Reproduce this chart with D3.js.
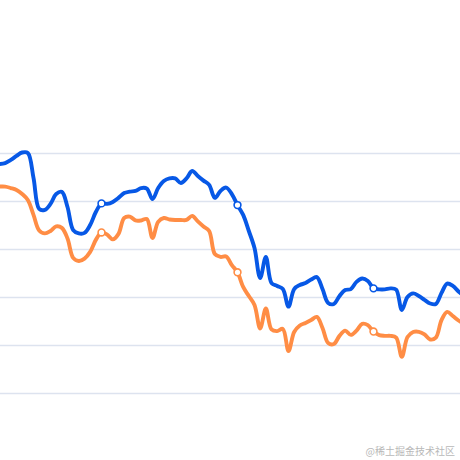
<!DOCTYPE html>
<html>
<head>
<meta charset="utf-8">
<script src="https://cdn.jsdelivr.net/npm/d3@7"></script>
<style>
  html, body { margin: 0; padding: 0; background: #fff; }
  svg { display: block; }
</style>
</head>
<body>
<div id="chart"></div>
<script>
// ---- data ----
const yTicks = [0, 20, 40, 60, 80, 100];
const seriesNames = ["A", "B"];
const blueValues = [95.4, 95.8, 97.1, 98.8, 100.2, 100, 89.6, 76.7, 76.3, 78.8,
  82.9, 83.8, 77.5, 67.9, 66.5, 66.7, 70, 75.4, 79, 78.8,
  79.6, 81.3, 83.3, 83.9, 84.2, 85.4, 85.2, 80.8, 85.4, 88.3,
  89.4, 89.4, 87.5, 89.4, 92.5, 90.4, 88.5, 86.7, 81.3, 84.2,
  85.6, 82.9, 78.3, 74.2, 67.5, 60.4, 47.9, 56.7, 45.8, 44.6,
  43.3, 36, 43.3, 45, 45.8, 47.3, 48.3, 43.3, 37.5, 37.1,
  40.4, 42.9, 43.3, 46.3, 47.7, 46.7, 43.6, 43.2, 43.2, 43.6,
  43.1, 34.6, 40, 41.5, 40.4, 38.8, 37.3, 37.1, 41.7, 45.6,
  44.6, 42.3, 40.4];
const orangeValues = [86, 86, 85.4, 84.6, 82.9, 80.4, 74.2, 67.7, 66.5, 67.5,
  69.4, 68.8, 64.4, 56.3, 55, 56, 58.8, 63.8, 66.9, 66,
  64, 66.3, 72.9, 73.5, 71.9, 71.9, 72.5, 64.6, 71.3, 72.9,
  72.3, 72.1, 72.1, 72.1, 73.8, 71.5, 69.4, 67.5, 57.9, 56.7,
  56.9, 53.3, 50.3, 44.2, 40.4, 36.7, 26.9, 35.2, 26.5, 25.8,
  26.7, 17.5, 25.4, 28.1, 29.2, 30.4, 31.7, 27.1, 20.8, 20.4,
  23.8, 26, 24.2, 26, 28.8, 28.3, 25.6, 24.1, 23.8, 23.8,
  23.1, 15.1, 23.3, 25.4, 25.5, 24.4, 22.3, 23.1, 30.4, 33.8,
  32.1, 30.2, 28.8];
const markerIndices = [18, 42, 66];
const watermark = "@稀土掘金技术社区";

// ---- chart ----
const W = 460, H = 460;
const svg = d3.select("#chart").append("svg").attr("width", W).attr("height", H);

const n = blueValues.length;
const x = d3.scaleLinear().domain([0, n - 1]).range([-0.5, 464.17]);
const y = d3.scaleLinear().domain([0, 100]).range([393, 153]);

// grid lines
svg.append("g").selectAll("line").data(yTicks).join("line")
  .attr("x1", 0).attr("x2", W)
  .attr("y1", d => Math.round(y(d)) + 0.5).attr("y2", d => Math.round(y(d)) + 0.5)
  .attr("stroke", "#dde3ef").attr("stroke-width", 1.4);

const line = d3.line()
  .x((d, i) => x(i))
  .y(d => y(d))
  .curve(d3.curveCatmullRom.alpha(0.5));

const series = [
  { name: seriesNames[0], values: blueValues, color: "#0758e6" },
  { name: seriesNames[1], values: orangeValues, color: "#ff8d45" }
];

// draw orange first so blue on top
series.slice().reverse().forEach(s => {
  svg.append("path").datum(s.values)
    .attr("d", line)
    .attr("fill", "none")
    .attr("stroke", s.color)
    .attr("stroke-width", 3.9)
    .attr("stroke-linejoin", "round")
    .attr("stroke-linecap", "round");
});

series.forEach(s => {
  svg.append("g").selectAll("circle").data(markerIndices).join("circle")
    .attr("cx", i => x(i))
    .attr("cy", i => y(s.values[i]))
    .attr("r", 3.4)
    .attr("fill", "#fff")
    .attr("stroke", s.color)
    .attr("stroke-width", 1.6);
});

svg.append("text")
  .attr("x", 455).attr("y", 455)
  .attr("text-anchor", "end")
  .attr("font-family", "'Noto Sans CJK SC', sans-serif")
  .attr("font-size", 10)
  .attr("fill", "#b8b8b8")
  .text(watermark);
</script>
</body>
</html>
